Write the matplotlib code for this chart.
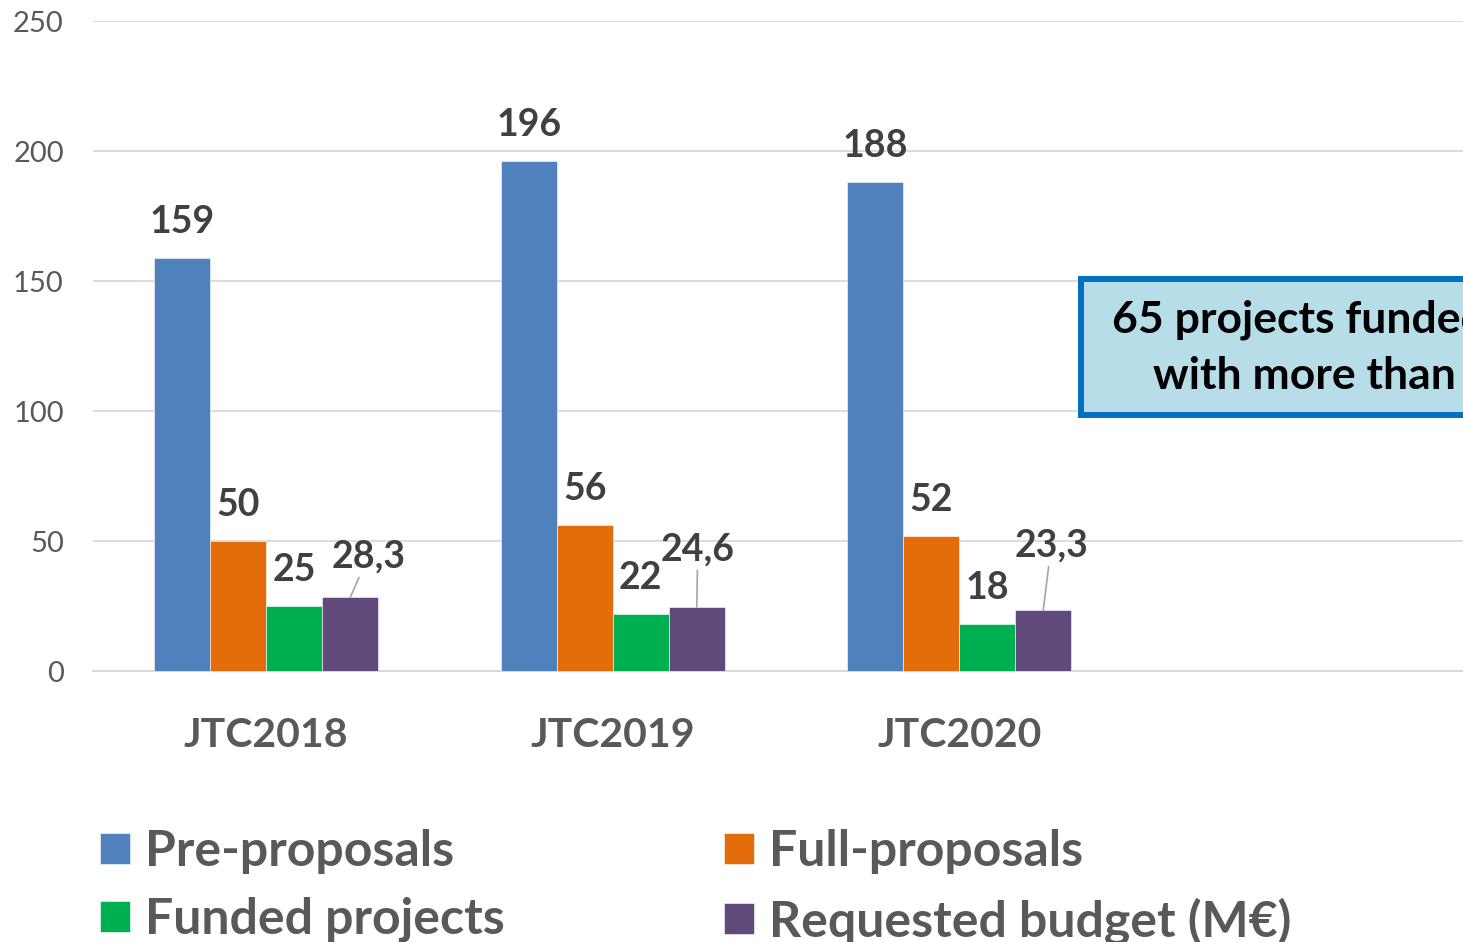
"""JTC calls overview - grouped bar chart"""

import numpy as np
import matplotlib
matplotlib.use("Agg")
import matplotlib.pyplot as plt
from matplotlib.patches import Rectangle

# data
calls = ["JTC2018", "JTC2019", "JTC2020"]
pre_proposals = [159, 196, 188]
full_proposals = [50, 56, 52]
funded_projects = [25, 22, 18]
requested_budget = [28.3, 24.6, 23.3]
series_names = ["Pre-proposals", "Full-proposals", "Funded projects", "Requested budget (M€)"]
y_ticks = [0, 50, 100, 150, 200, 250]
box_lines = ["65 projects funded", "with more than"]

colors = ["#4f81bd", "#e46c0a", "#00b050", "#604a7b"]
label_color = "#404040"
axis_text = "#595959"

plt.rcParams["font.family"] = ["Lato", "DejaVu Sans"]

fig = plt.figure(figsize=(14.63, 9.42), dpi=100)
ax = fig.add_axes([93 / 1463, 1 - 671 / 942, 1 - 93 / 1463, 650 / 942])

x = np.arange(len(calls))
w = 0.1616
series = [pre_proposals, full_proposals, funded_projects, requested_budget]
bars = []
for i, vals in enumerate(series):
    b = ax.bar(x + (i - 1.5) * w, vals, w, color=colors[i], edgecolor="white",
               linewidth=0.4, label=series_names[i], zorder=3)
    bars.append(b)

# value labels (pixel offsets from bar top)
for i in range(3):
    for rect, v in zip(bars[i], series[i]):
        ax.annotate(str(v), (rect.get_x() + rect.get_width() / 2, rect.get_height()),
                    xytext=(0, 36), textcoords="offset pixels", ha="center", va="center",
                    fontsize=27, fontweight="bold", color=label_color)

purple_offsets = [(18, 41), (1, 58), (8, 65)]
for rect, v, off in zip(bars[3], requested_budget, purple_offsets):
    ax.annotate(f"{v:.1f}".replace(".", ","),
                (rect.get_x() + rect.get_width() / 2, rect.get_height()),
                xytext=off, textcoords="offset pixels", ha="center", va="center",
                fontsize=27, fontweight="bold", color=label_color,
                arrowprops=dict(arrowstyle="-", color="#a6a6a6", lw=1.2,
                                shrinkA=1, shrinkB=0))

ax.set_xlim(-0.5, -0.5 + 1370 / 346.5)
ax.set_ylim(0, 250)
ax.set_yticks(y_ticks)
ax.set_yticklabels([str(t) for t in y_ticks], fontsize=21, color=axis_text)
ax.set_xticks(x)
ax.set_xticklabels(calls, fontsize=29.5, fontweight="bold", color=axis_text)
ax.tick_params(axis="y", length=0, pad=21)
ax.tick_params(axis="x", length=0, pad=33)
ax.grid(axis="y", color="#d9d9d9", linewidth=1.3, zorder=0)
for s in ["top", "right", "left"]:
    ax.spines[s].set_visible(False)
ax.spines["bottom"].set_color("#d9d9d9")
ax.spines["bottom"].set_linewidth(1.5)

# text box on the right (cut by the figure edge, as in the source slide)
fig.patches.append(Rectangle((1081 / 1463, 1 - 415 / 942), 0.4, 136 / 942,
                             transform=fig.transFigure, facecolor="#b7dde8",
                             edgecolor="#0070c0", linewidth=4.3, zorder=5))
fig.text(1112 / 1463, 1 - 320 / 942, box_lines[0], fontsize=32, fontweight="bold",
         color="black", ha="left", va="center", zorder=6)
fig.text(1153 / 1463, 1 - 376 / 942, box_lines[1], fontsize=32, fontweight="bold",
         color="black", ha="left", va="center", zorder=6)

# legend filled row by row: Pre / Full, Funded / Requested
order = [0, 2, 1, 3]
leg = fig.legend(handles=[bars[k] for k in order], labels=[series_names[k] for k in order],
                 ncol=2, frameon=False,
                 loc="upper left", bbox_to_anchor=(100 / 1463, 1 - 829 / 942),
                 fontsize=36, handlelength=0.6, handleheight=0.6, handletextpad=0.3,
                 columnspacing=4.38, labelspacing=0.46, borderpad=0, borderaxespad=0)
for t in leg.get_texts():
    t.set_color(axis_text)
    t.set_fontweight("bold")

fig.savefig("out.png", dpi=100)
